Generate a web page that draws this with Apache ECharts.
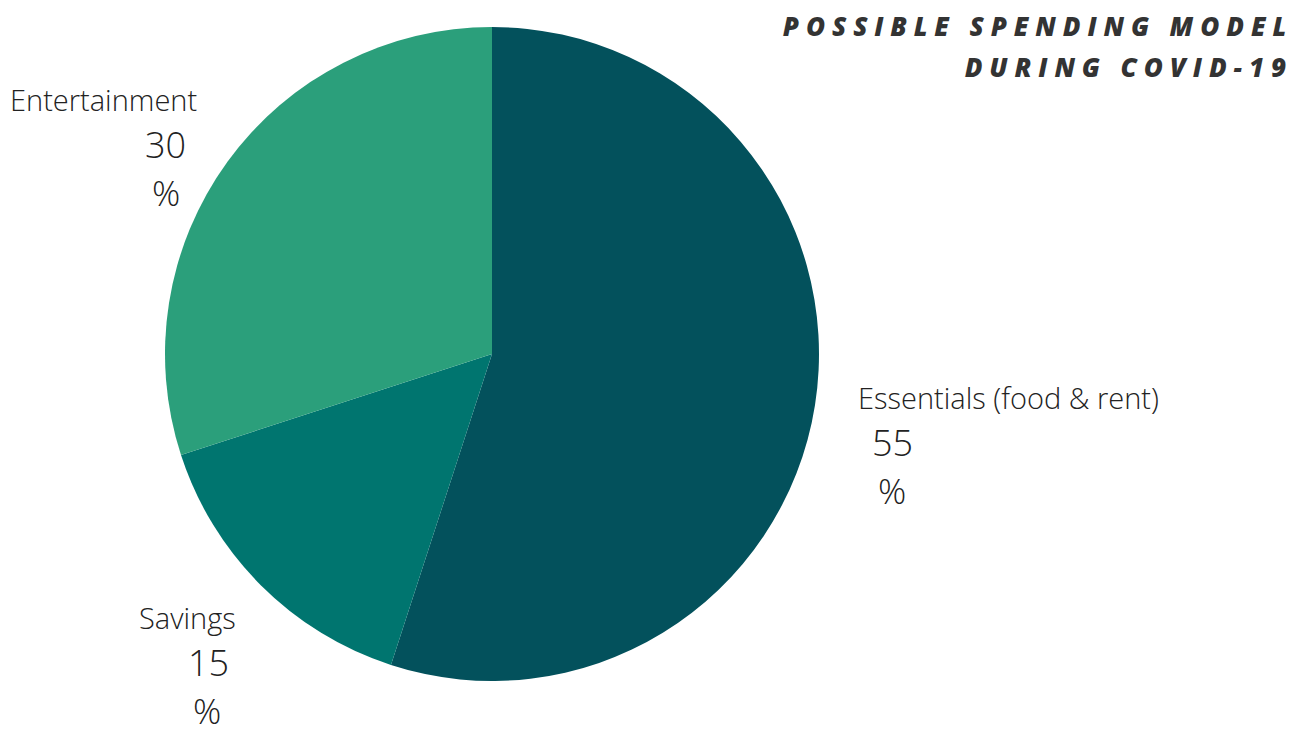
<!DOCTYPE html>
<html>
<head>
<meta charset="utf-8">
<script src="https://cdn.jsdelivr.net/npm/echarts@6/dist/echarts.min.js"></script>
<style>
  html, body { margin: 0; padding: 0; background: #ffffff; }
  #chart { width: 1302px; height: 731px; }
  text[style*="italic"] { letter-spacing: 6.9px; }
</style>
</head>
<body>
<div id="chart"></div>
<script>
const categories = ['Essentials (food & rent)', 'Savings', 'Entertainment'];
const values = [55, 15, 30];
const colors = ['#03515C', '#00756F', '#2B9F7B'];
const titleText = 'POSSIBLE SPENDING MODEL\nDURING COVID-19';

// label placement (style only)
const labelPos = [
  { x: 858, y: 381, vPad: 14, pPad: 20 },
  { x: 139, y: 601, vPad: 49, pPad: 54 },
  { x: 10,  y: 83,  vPad: 135, pPad: 142 }
];

function richFor(i) {
  const base = { color: '#222', fontFamily: '"Open Sans"', fontWeight: 300 };
  return {
    n: Object.assign({}, base, { fontSize: 29, lineHeight: 32 }),
    v: Object.assign({}, base, { fontSize: 36, lineHeight: 58, padding: [0, 0, 0, labelPos[i].vPad] }),
    p: Object.assign({}, base, { fontSize: 35, lineHeight: 38, padding: [0, 0, 0, labelPos[i].pPad] })
  };
}

const data = categories.map((name, i) => ({
  name: name,
  value: values[i],
  itemStyle: { color: colors[i] },
  label: { rich: richFor(i) }
}));

const chart = echarts.init(document.getElementById('chart'), null, { renderer: 'svg' });
chart.setOption({
  animation: false,
  backgroundColor: '#ffffff',
  title: {
    text: titleText,
    left: 1288,
    top: 0,
    textAlign: 'right',
    textStyle: {
      fontFamily: '"Open Sans"',
      fontStyle: 'italic',
      fontWeight: 800,
      fontSize: 26,
      lineHeight: 41,
      color: '#333333'
    }
  },
  series: [{
    type: 'pie',
    center: [492, 354],
    radius: 327,
    startAngle: 90,
    clockwise: true,
    silent: true,
    itemStyle: { borderWidth: 0 },
    label: {
      show: true,
      position: 'outside',
      overflow: 'none',
      edgeDistance: 0,
      formatter: '{n|{b}}\n{v|{c}}\n{p|%}'
    },
    labelLine: { show: false },
    labelLayout: function (params) {
      const p = labelPos[params.dataIndex];
      return { x: p.x, y: p.y, align: 'left', verticalAlign: 'top', hideOverlap: false };
    },
    data: data
  }]
});
</script>
</body>
</html>
